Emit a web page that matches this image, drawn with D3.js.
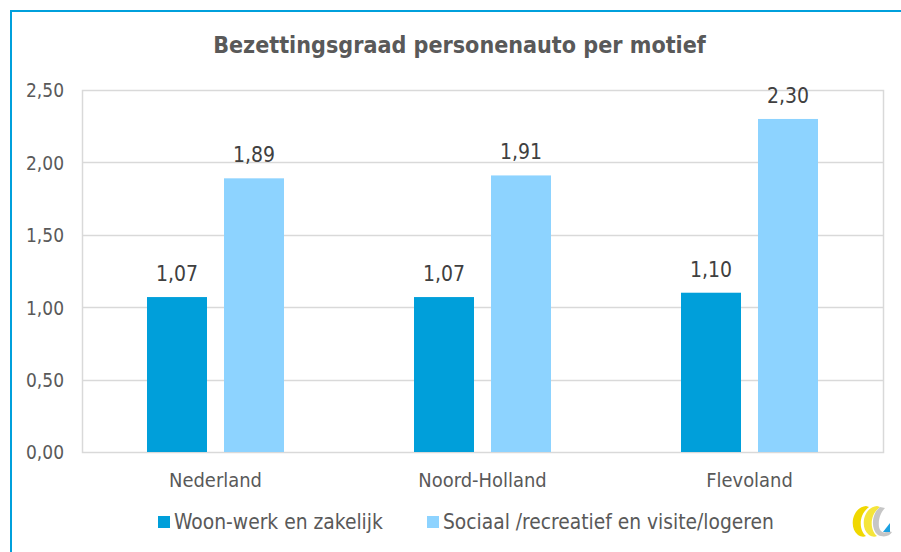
<!DOCTYPE html>
<html><head><meta charset="utf-8">
<script src="https://cdn.jsdelivr.net/npm/d3@7"></script>
<style>
html,body{margin:0;padding:0;background:#fff;}
svg{display:block;}
text{font-family:"DejaVu Sans Condensed","DejaVu Sans",Verdana,sans-serif;}
</style></head>
<body>
<svg id="chart" width="901" height="552"></svg>
<script>
const title = "Bezettingsgraad personenauto per motief";
const categories = ["Nederland", "Noord-Holland", "Flevoland"];
const seriesNames = ["Woon-werk en zakelijk", "Sociaal /recreatief en visite/logeren"];
const woonWerk = [1.07, 1.07, 1.10];
const sociaal = [1.89, 1.91, 2.30];
const yTicks = [0, 0.5, 1.0, 1.5, 2.0, 2.5];
const colors = ["#009FDA", "#8DD3FF"];

const svg = d3.select("#chart");
const W = 901, H = 552;
const plot = {x0: 82, x1: 883, y0: 90, y1: 452};
const FONT = '"DejaVu Sans Condensed","DejaVu Sans",sans-serif';

const fmt = v => d3.format(".2f")(v).replace(".", ",");

// frame lines
svg.append("line").attr("x1", 10).attr("x2", W).attr("y1", 11).attr("y2", 11)
  .attr("stroke", "#00A0DC").attr("stroke-width", 2);
svg.append("line").attr("x1", 11).attr("x2", 11).attr("y1", 10).attr("y2", H)
  .attr("stroke", "#00A0DC").attr("stroke-width", 2);

const x = d3.scaleBand().domain(categories).range([plot.x0, plot.x1]).padding(0);
const xs = d3.scaleBand().domain([0, 1]).range([0, x.bandwidth()]).paddingInner(0.2208).paddingOuter(0.844);
const y = d3.scaleLinear().domain([0, 2.5]).range([plot.y1, plot.y0]);

function fit(sel, target, base) {
  sel.attr("font-size", base);
  const w = sel.node().getComputedTextLength();
  const s = base * target / w;
  sel.attr("font-size", s);
  return s;
}

// gridlines
svg.append("g").selectAll("line").data(yTicks.filter(t => t > 0 && t < 2.5)).join("line")
  .attr("x1", plot.x0).attr("x2", plot.x1)
  .attr("y1", d => Math.round(y(d)) + 0.5).attr("y2", d => Math.round(y(d)) + 0.5)
  .attr("stroke", "#D9D9D9").attr("stroke-width", 1.5);
svg.append("rect").attr("x", plot.x0 + 0.5).attr("y", plot.y0 + 0.5)
  .attr("width", plot.x1 - plot.x0).attr("height", plot.y1 - plot.y0)
  .attr("fill", "none").attr("stroke", "#D9D9D9").attr("stroke-width", 1.5);

// y axis labels
const yAxis = d3.axisLeft(y).tickValues(yTicks).tickFormat(fmt).tickSize(0).tickPadding(18);
const ya = svg.append("g").attr("transform", `translate(${plot.x0},0)`).call(yAxis);
ya.select(".domain").remove();
ya.selectAll("text").attr("fill", "#595959").attr("font-family", FONT).attr("dy", "0.36em");
const tickSize = fit(ya.select("text"), 38, 16);
ya.selectAll("text").attr("font-size", tickSize);

// bars
const data = categories.map((c, i) => ({c, vals: [woonWerk[i], sociaal[i]]}));
const groups = svg.append("g").selectAll("g").data(data).join("g")
  .attr("transform", d => `translate(${x(d.c)},0)`);
groups.selectAll("rect").data(d => d.vals.map((v, k) => ({v, k}))).join("rect")
  .attr("x", d => xs(d.k)).attr("width", xs.bandwidth())
  .attr("y", d => y(d.v)).attr("height", d => y(0) - y(d.v))
  .attr("fill", d => colors[d.k]);
const labels = groups.selectAll("text").data(d => d.vals.map((v, k) => ({v, k}))).join("text")
  .attr("x", d => xs(d.k) + xs.bandwidth() / 2).attr("y", d => y(d.v) - 16)
  .attr("text-anchor", "middle").attr("fill", "#404040")
  .text(d => fmt(d.v));
const lblSize = fit(d3.select(labels.nodes()[1]), 42, 16);
labels.attr("font-size", lblSize);

// x axis labels
const xAxis = d3.axisBottom(x).tickSize(0).tickPadding(21);
const xa = svg.append("g").attr("transform", `translate(0,${plot.y1})`).call(xAxis);
xa.select(".domain").remove();
xa.selectAll("text").attr("fill", "#595959").attr("font-family", FONT);
const catSize = fit(xa.select("text"), 93, 16);
xa.selectAll("text").attr("font-size", catSize);

// title
const t = svg.append("text").attr("x", 459.5).attr("y", 53).attr("text-anchor", "middle")
  .attr("font-weight", "bold").attr("fill", "#595959").text(title);
fit(t, 493, 18);

// legend
const legX = [158, 427];
const legW = [209, 331];
seriesNames.forEach((n, k) => {
  svg.append("rect").attr("x", legX[k]).attr("y", 516).attr("width", 12).attr("height", 12).attr("fill", colors[k]);
  const lt = svg.append("text").attr("x", legX[k] + 16).attr("y", 529).attr("fill", "#595959").text(n);
  fit(lt, legW[k], 16);
});

// logo (approximation)
const lg = svg.append("g").attr("transform", "translate(850,505)");
lg.append("path").attr("d", "M16,1 C3,2 -2,22 8,30 C11,32 14,32 16,31 C9,26 8,10 19,2 Z").attr("fill", "#F0D800");
lg.append("path").attr("d", "M27,1 C14,2 9,22 19,30 C22,32 25,32 27,31 C20,26 19,10 30,2 Z").attr("fill", "#F5E53A");
lg.append("path").attr("d", "M30,2 C22,8 20,24 28,30 C34,33 40,31 42,27 L38,26 C34,29 30,27 29,22 C28,14 31,7 35,3 Z").attr("fill", "#C6C6C6");
lg.append("path").attr("d", "M33,27 L40,18 L40,27 Z").attr("fill", "#1BA1E2");
</script>
</body></html>
